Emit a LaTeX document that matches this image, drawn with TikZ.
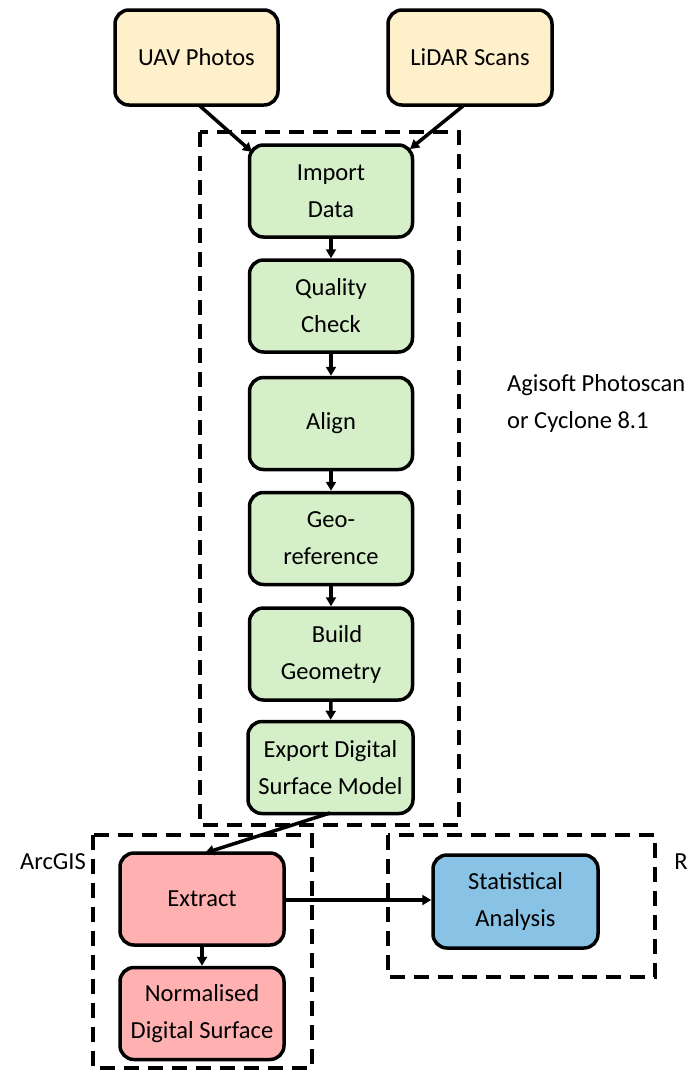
\documentclass[tikz,border=0pt]{standalone}
\usepackage{fontspec}
\setmainfont{Carlito}
\usetikzlibrary{arrows.meta}
\definecolor{cyel}{HTML}{FFF0CC}
\definecolor{cgrn}{HTML}{D5EFC8}
\definecolor{cred}{HTML}{FFB1B1}
\definecolor{cblu}{HTML}{88C2E5}
\begin{document}
\begin{tikzpicture}[x=1pt,y=-1pt,
  box/.style={draw=black,line width=3.5pt,rounded corners=14pt,align=center,
    minimum width=163pt,minimum height=92pt,inner sep=0pt,
    font=\fontsize{24.5}{37}\selectfont},
  ybox/.style={box,fill=cyel,minimum height=95pt},
  gbox/.style={box,fill=cgrn},
  rbox/.style={box,fill=cred},
  bbox/.style={box,fill=cblu,minimum width=165pt,minimum height=93pt},
  grp/.style={draw=black,line width=3.5pt,dash pattern=on 15pt off 9pt},
  lbl/.style={font=\fontsize{24.5}{37}\selectfont,inner sep=0pt},
  arr/.style={line width=3.5pt,-{Triangle[length=9pt,width=10pt]}}]
\useasboundingbox (0,0) rectangle (689,1072);
% groups
\draw[grp] (200,132) rectangle (459,825);
\draw[grp] (93,835) rectangle (312,1068);
\draw[grp] (388,835) rectangle (655,977);
% nodes
\node[ybox] (uav) at (196.5,57.5) {UAV Photos};
\node[ybox,minimum width=164pt] (lidar) at (470,57.5) {LiDAR Scans};
\node[gbox] (imp) at (331,191) {Import\\Data};
\node[gbox] (qc) at (331,306) {Quality\\Check};
\node[gbox] (al) at (331,423.5) {Align};
\node[gbox] (geo) at (331,538.5) {Geo-\\reference};
\node[gbox] (bg) at (331,654) {\hspace{12pt}Build\\Geometry};
\node[gbox,minimum width=165pt] (ex) at (330.5,767.5) {Export Digital\\Surface Model};
\node[rbox,minimum width=164pt] (extr) at (202,899) {Extract};
\node[rbox,minimum width=164pt] (norm) at (202,1013.5) {Normalised\\Digital Surface};
\node[bbox] (stat) at (515.5,901.5) {Statistical\\Analysis};
% labels
\node[lbl,anchor=west,align=left] (agi) at (507,403.5) {Agisoft Photoscan\\or Cyclone 8.1};
\node[lbl,anchor=east] (arc) at (86,862) {ArcGIS};
\node[lbl] (rl) at (681,862) {R};
% connectors
\coordinate (u0) at (200,106);
\coordinate (u1) at (252,152);
\coordinate (l0) at (463,106);
\coordinate (l1) at (410,149);
\draw[arr] (u0) -- (u1);
\draw[arr] (l0) -- (l1);
\draw[arr] (imp) -- (qc);
\draw[arr] (qc) -- (al);
\draw[arr] (al) -- (geo);
\draw[arr] (geo) -- (bg);
\draw[arr] (bg) -- (ex);
\coordinate (e0) at (330,813);
\coordinate (e1) at (205,853);
\draw[arr] (e0) -- (e1);
\draw[arr] (extr.east |- 0,900) -- (stat.west |- 0,900);
\draw[arr] (extr) -- (norm);
\end{tikzpicture}
\end{document}
